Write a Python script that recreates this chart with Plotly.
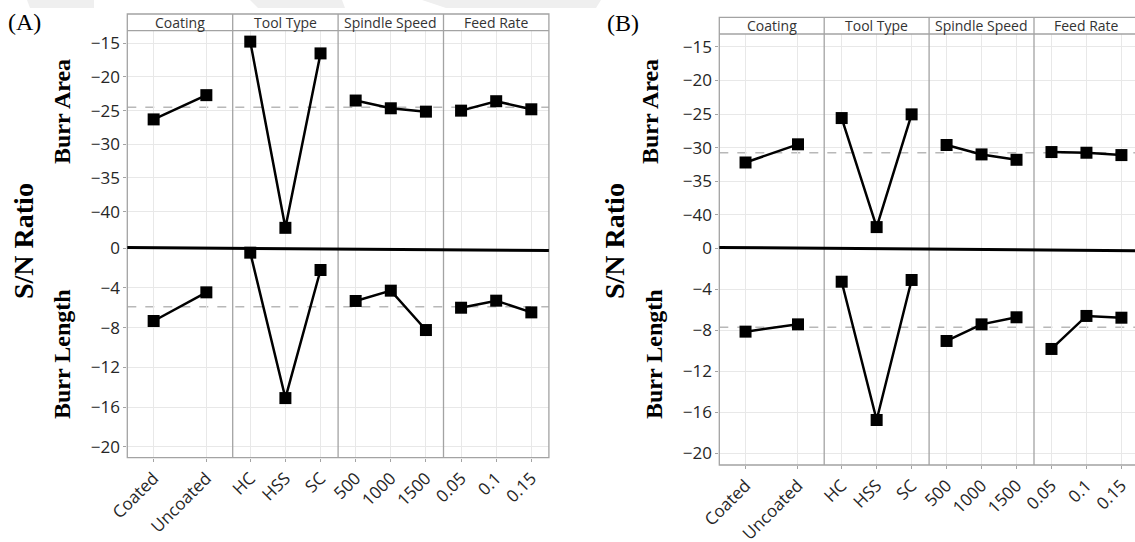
import plotly.graph_objects as go

W, H = 1135, 542

# ---------------- data ----------------
factors = ["Coating", "Tool Type", "Spindle Speed", "Feed Rate"]
levels = [["Coated", "Uncoated"], ["HC", "HSS", "SC"], ["500", "1000", "1500"], ["0.05", "0.1", "0.15"]]

a_area = [[-26.3, -22.7], [-14.75, -42.4, -16.5], [-23.5, -24.65, -25.15], [-25.0, -23.6, -24.8]]
a_length = [[-7.33, -4.44], [-0.44, -15.1, -2.19], [-5.31, -4.27, -8.24], [-5.99, -5.28, -6.46]]
b_area = [[-32.2, -29.5], [-25.6, -41.8, -25.05], [-29.6, -31.0, -31.8], [-30.65, -30.75, -31.1]]
b_length = [[-8.13, -7.42], [-3.26, -16.75, -3.09], [-9.04, -7.42, -6.73], [-9.82, -6.6, -6.77]]

a_area_mean = -24.5
a_length_mean = -5.9
b_area_mean = -30.75
b_length_mean = -7.7

area_ticks = [-15, -20, -25, -30, -35, -40]
length_ticks = [0, -4, -8, -12, -16, -20]

panel_labels = ["(A)", "(B)"]
row_titles = ["Burr Area", "Burr Length"]
main_title = "S/N Ratio"

# ---------------- geometry (pixels) ----------------
def px(x):
    return x / W


def py(y):
    return 1 - y / H


panels = [
    dict(label=panel_labels[0], left=127.3, fw=105.4, strip_top=14.0, strip_bot=30.7, mid=248.3, bottom=457.7,
         top_range=[-45.44, -13.13], bot_range=[-21.11, 0.0],
         area=a_area, length=a_length, area_mean=a_area_mean, length_mean=a_length_mean,
         lab_xy=(24, 22), sn_x=24, area_x=62, len_x=62, black=(247.5, 250.5)),
    dict(label=panel_labels[1], left=719.3, fw=104.9, strip_top=17.3, strip_bot=34.0, mid=248.3, bottom=465.0,
         top_range=[-44.95, -13.11], bot_range=[-21.14, 0.0],
         area=b_area, length=b_length, area_mean=b_area_mean, length_mean=b_length_mean,
         lab_xy=(623, 23), sn_x=615, area_x=650, len_x=654, black=(247.5, 250.7)),
]

FRAME = "#a3a3a3"
GRID = "#e8e8e8"
TICKFONT = dict(family="Open Sans", size=17, color="#262626")
SERIF = "Liberation Serif"

fig = go.Figure()
layout = {}
shapes = []
annotations = []

# faint watermark bands at the very top
for pts in [
    [(27, 0), (94, 0), (94, 8), (30, 8)],
    [(250, 0), (342, 0), (345, 8), (258, 8)],
    [(422, 0), (601, 0), (596, 8), (446, 8)],
]:
    path = "M " + " L ".join(f"{px(x)},{py(y)}" for x, y in pts) + " Z"
    shapes.append(dict(type="path", xref="paper", yref="paper", path=path,
                       fillcolor="#efefef", line=dict(width=0), layer="below"))

xi = 0
yi = 0
for p in panels:
    left, fw = p["left"], p["fw"]
    right = left + 4 * fw
    y_top_id = yi + 1
    y_bot_id = yi + 2
    yi += 2
    first_x_id = xi + 1

    # y axes
    for yid, (t, b), rng, tv in [
        (y_top_id, (p["strip_bot"], p["mid"]), p["top_range"], area_ticks),
        (y_bot_id, (p["mid"], p["bottom"]), p["bot_range"], length_ticks),
    ]:
        layout[f"yaxis{yid}"] = dict(
            domain=[py(b), py(t)], range=rng, anchor=f"x{first_x_id}", automargin=False,
            tickmode="array", tickvals=tv, ticks="outside", ticklen=3, tickcolor=FRAME,
            showgrid=True, gridcolor=GRID, gridwidth=1, zeroline=False, showline=False,
            tickfont=TICKFONT, fixedrange=True,
        )

    for f in range(4):
        xi += 1
        x0 = left + f * fw
        x1 = x0 + fw
        n = len(levels[f])
        rng_hi = n - 0.5
        if x1 > W:
            rng_hi = -0.5 + n * (W - x0) / fw
            x1 = W
        layout[f"xaxis{xi}"] = dict(
            domain=[px(x0), px(x1)], type="category", categoryorder="array", categoryarray=levels[f],
            range=[-0.5, rng_hi], anchor=f"y{y_bot_id}", tickangle=-45, automargin=False,
            ticks="outside", ticklen=3, tickcolor=FRAME,
            showgrid=True, gridcolor=GRID, gridwidth=1, zeroline=False, showline=False,
            tickfont=TICKFONT, fixedrange=True,
        )
        for yid, vals in [(y_top_id, p["area"][f]), (y_bot_id, p["length"][f])]:
            fig.add_trace(go.Scatter(
                x=levels[f], y=vals, xaxis=f"x{xi}", yaxis=f"y{yid}",
                mode="lines+markers", showlegend=False, cliponaxis=False,
                line=dict(color="black", width=2.5),
                marker=dict(symbol="square", size=12, color="black"),
                hoverinfo="x+y",
            ))
        # strip label
        annotations.append(dict(
            x=px(x0 + fw / 2),
            y=py((p["strip_top"] + p["strip_bot"]) / 2), xref="paper", yref="paper",
            text=factors[f], showarrow=False, xanchor="center", yanchor="middle",
            font=dict(family="Open Sans", size=14, color="#333333"),
        ))

    # mean dashed lines
    for yid, m in [(y_top_id, p["area_mean"]), (y_bot_id, p["length_mean"])]:
        shapes.append(dict(type="line", xref="paper", yref=f"y{yid}",
                           x0=px(left), x1=min(px(right), 1.0), y0=m, y1=m,
                           line=dict(color="#b8b8b8", width=1.5, dash="dash"), layer="below"))

    # frame
    shapes.append(dict(type="rect", xref="paper", yref="paper",
                       x0=px(left), x1=px(right), y0=py(p["bottom"]), y1=py(p["strip_top"]),
                       line=dict(color=FRAME, width=1.3), fillcolor="rgba(0,0,0,0)"))
    shapes.append(dict(type="line", xref="paper", yref="paper",
                       x0=px(left), x1=px(right), y0=py(p["strip_bot"]), y1=py(p["strip_bot"]),
                       line=dict(color=FRAME, width=1.3)))
    for f in range(1, 4):
        xd = left + f * fw
        shapes.append(dict(type="line", xref="paper", yref="paper",
                           x0=px(xd), x1=px(xd), y0=py(p["bottom"]), y1=py(p["strip_top"]),
                           line=dict(color=FRAME, width=1.3)))
    # thick black separator
    shapes.append(dict(type="line", xref="paper", yref="paper",
                       x0=px(left), x1=min(px(right), 1.0),
                       y0=py(p["black"][0]), y1=py(p["black"][1]),
                       line=dict(color="black", width=3)))

    # text labels
    annotations.append(dict(x=px(p["lab_xy"][0]), y=py(p["lab_xy"][1]), xref="paper", yref="paper",
                            text=p["label"], showarrow=False, xanchor="center", yanchor="middle",
                            font=dict(family=SERIF, size=24, color="black")))
    annotations.append(dict(x=px(p["sn_x"]), y=py(241), xref="paper", yref="paper",
                            text=f"<b>{main_title}</b>", showarrow=False, textangle=-90,
                            xanchor="center", yanchor="middle",
                            font=dict(family=SERIF, size=28, color="black")))
    annotations.append(dict(x=px(p["area_x"]), y=py(112), xref="paper", yref="paper",
                            text=f"<b>{row_titles[0]}</b>", showarrow=False, textangle=-90,
                            xanchor="center", yanchor="middle",
                            font=dict(family=SERIF, size=24, color="black")))
    annotations.append(dict(x=px(p["len_x"]), y=py(354), xref="paper", yref="paper",
                            text=f"<b>{row_titles[1]}</b>", showarrow=False, textangle=-90,
                            xanchor="center", yanchor="middle",
                            font=dict(family=SERIF, size=24, color="black")))

fig.update_layout(
    width=W, height=H, margin=dict(l=0, r=0, t=0, b=0, pad=0, autoexpand=False),
    paper_bgcolor="white", plot_bgcolor="rgba(0,0,0,0)",
    showlegend=False, shapes=shapes, annotations=annotations,
    **layout,
)

# the page body has a default 8px margin; remove it so the figure fills the window exactly
fig.write_html("out.html", config={"displayModeBar": False},
               post_script="document.body.style.margin='0px';")
